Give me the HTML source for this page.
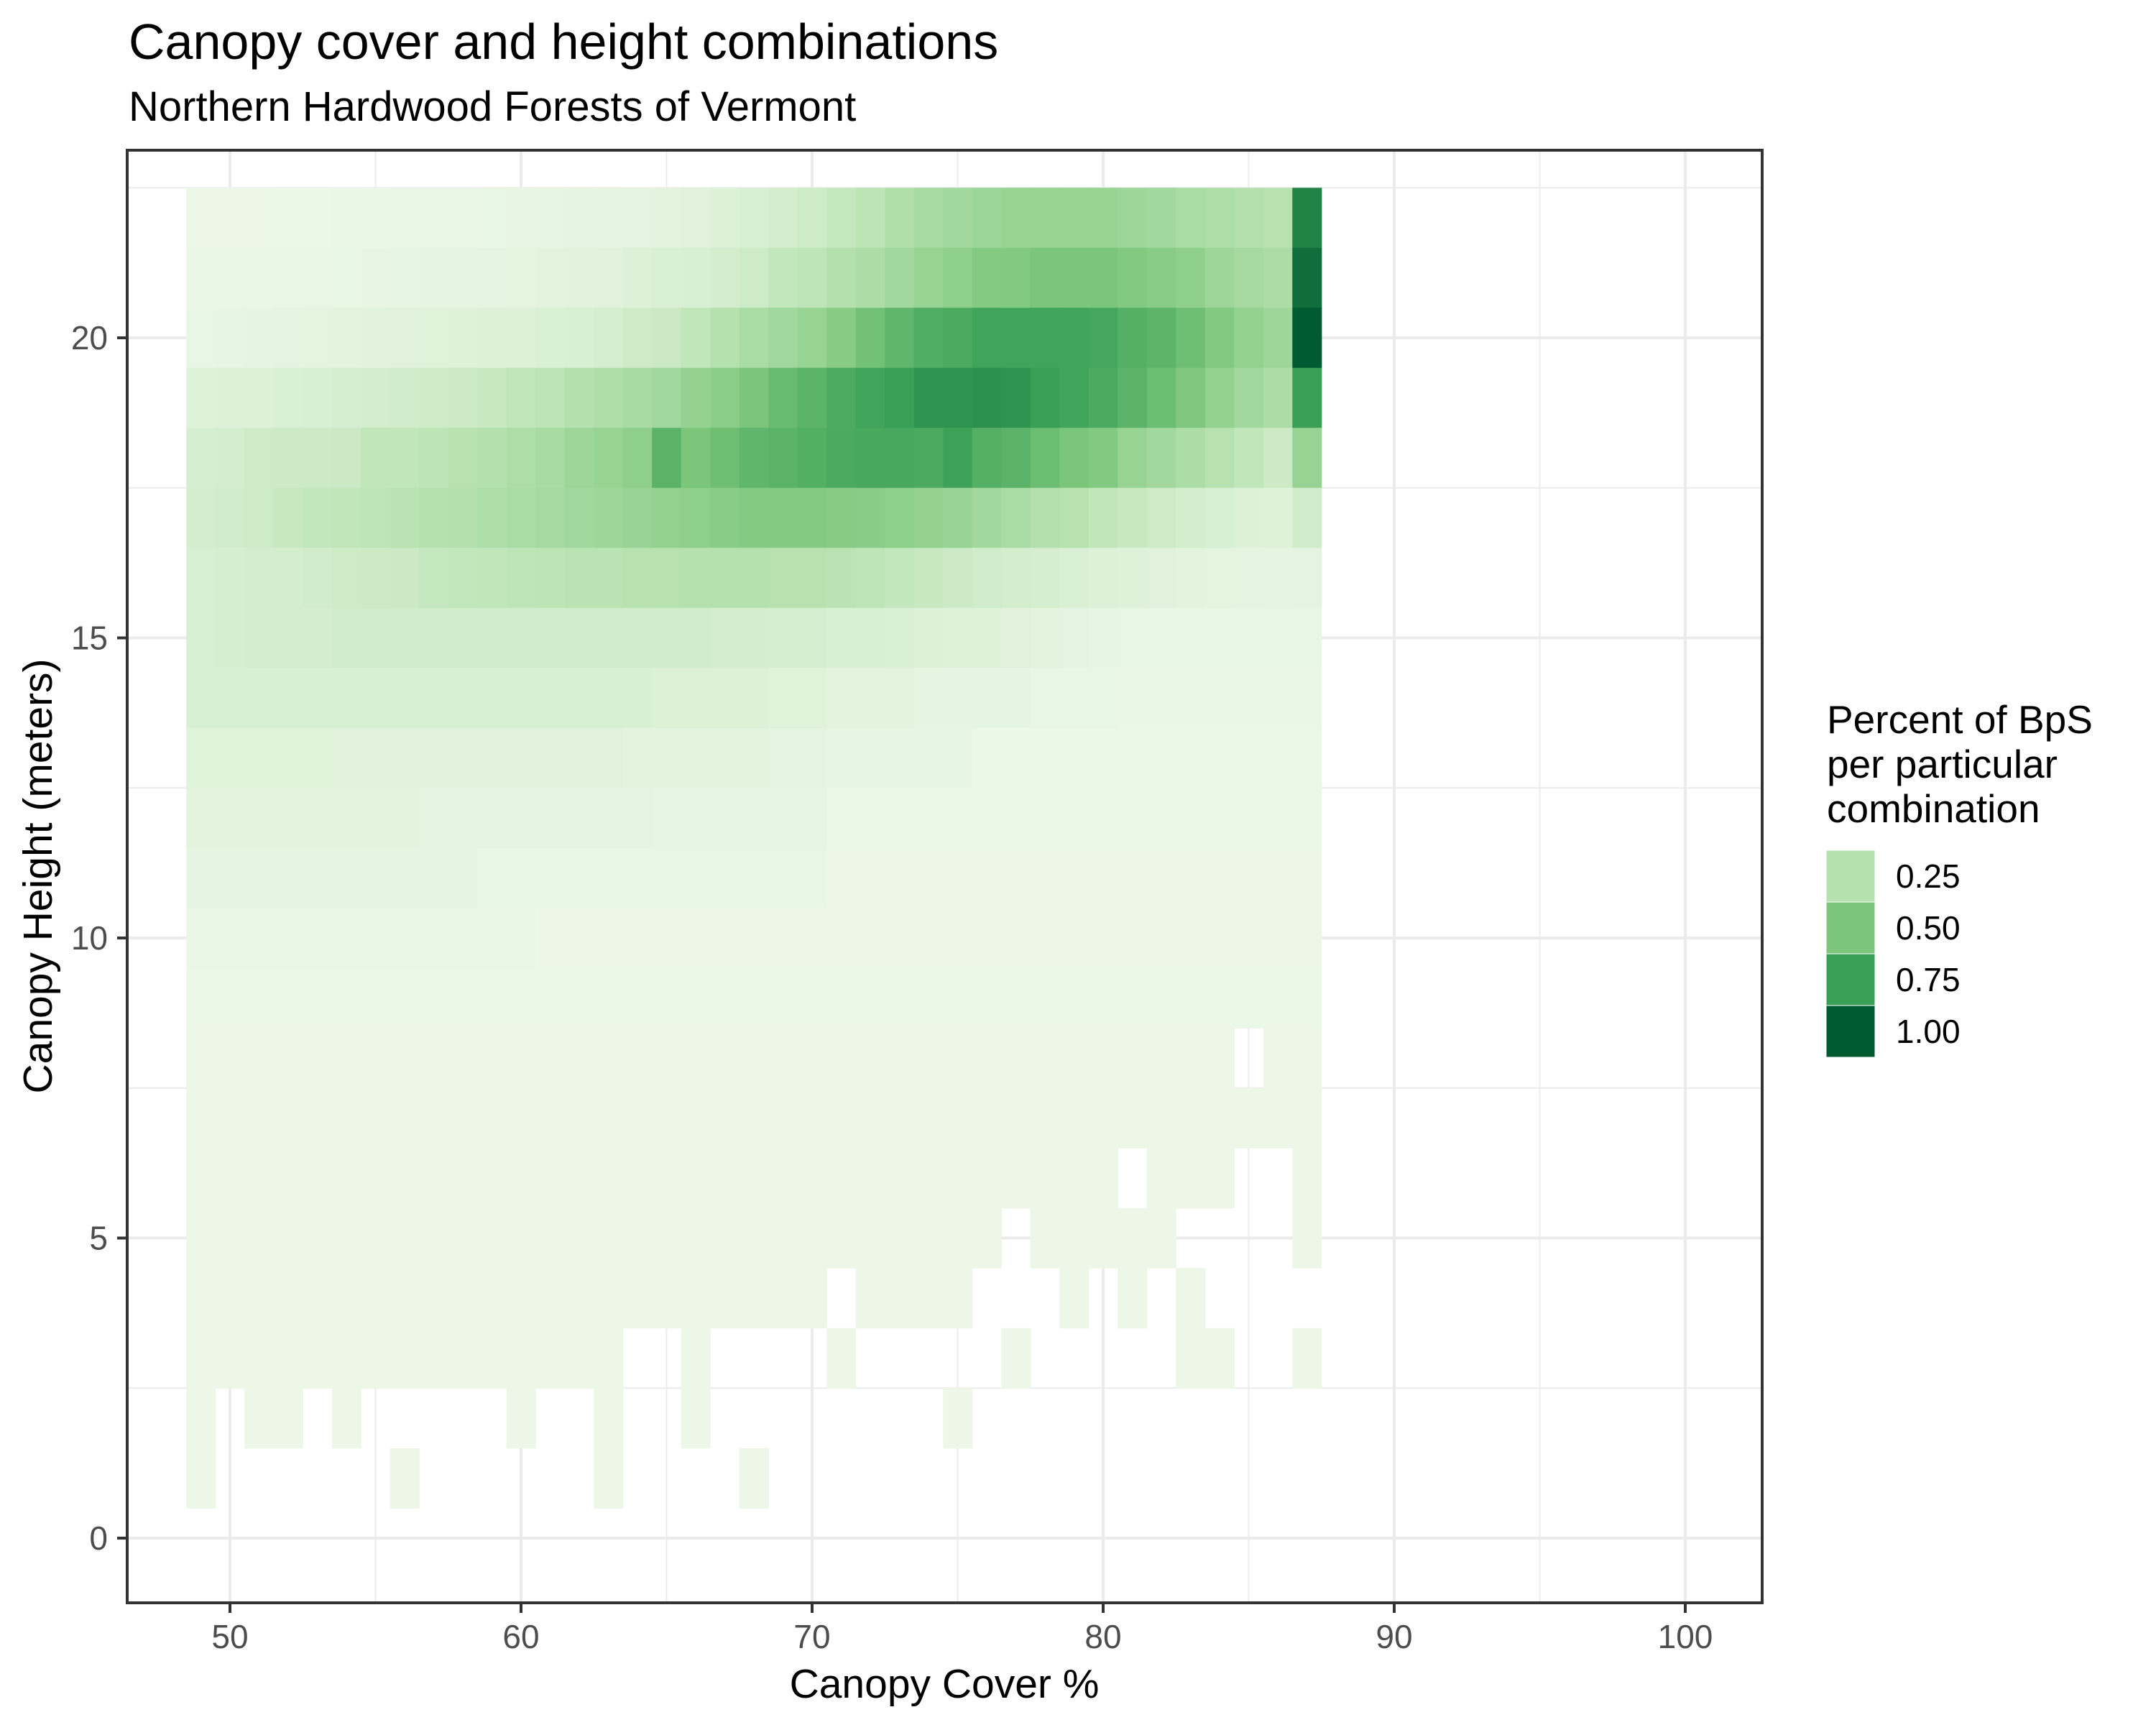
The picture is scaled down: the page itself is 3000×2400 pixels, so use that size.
<!DOCTYPE html>
<html><head><meta charset="utf-8"><title>Canopy cover and height combinations</title>
<style>html,body{margin:0;padding:0;background:#fff}svg{display:block}text{font-family:"Liberation Sans",Arial,sans-serif}</style>
</head><body>
<svg id="chart" xmlns="http://www.w3.org/2000/svg" width="3000" height="2400" viewBox="0 0 3000 2400">
<rect x="0" y="0" width="3000" height="2400" fill="#fff"/>
<text x="179" y="82" font-size="70" fill="#000">Canopy cover and height combinations</text>
<text x="179" y="168" font-size="58" fill="#000">Northern Hardwood Forests of Vermont</text>
<g id="grid"></g>
<g id="tiles"></g>
<rect x="177" y="209" width="2275" height="2021" fill="none" stroke="#333" stroke-width="4"/>
<g id="axes"></g>
<text x="1314" y="2362" font-size="57" text-anchor="middle" fill="#000">Canopy Cover %</text>
<text transform="translate(72,1219) rotate(-90)" font-size="57" text-anchor="middle" fill="#000">Canopy Height (meters)</text>
<g id="legend">
<text font-size="55" fill="#000"><tspan x="2542" y="1020">Percent of BpS</tspan><tspan x="2542" y="1082">per particular</tspan><tspan x="2542" y="1144">combination</tspan></text>
</g>
</svg>
<script>
const N = null;
const coverCategories = [49,50,51,52,53,54,55,56,57,58,59,60,61,62,63,64,65,66,67,68,69,70,71,72,73,74,75,76,77,78,79,80,81,82,83,84,85,86,87];
const heightCategories = [22,21,20,19,18,17,16,15,14,13,12,11,10,9,8,7,6,5,4,3,2,1];
const row22 = [.01,.01,.01,.012,.014,.016,.018,.02,.02,.022,.025,.028,.03,.033,.037,.042,.05,.06,.075,.1,.12,.14,.18,.22,.27,.31,.33,.36,.38,.38,.38,.38,.35,.33,.3,.28,.26,.24,.85];
const row21 = [.015,.016,.018,.02,.022,.025,.028,.03,.035,.035,.04,.045,.05,.055,.06,.08,.09,.1,.12,.14,.19,.21,.26,.29,.33,.38,.41,.46,.47,.5,.5,.5,.47,.44,.41,.35,.32,.29,.93];
const row20 = [.025,.03,.035,.04,.045,.05,.055,.06,.065,.07,.075,.08,.09,.1,.11,.14,.16,.2,.25,.3,.34,.38,.45,.53,.6,.66,.68,.72,.72,.72,.72,.7,.64,.61,.55,.47,.4,.35,1.0];
const row19 = [.07,.075,.08,.09,.1,.11,.12,.13,.14,.15,.17,.2,.22,.26,.28,.31,.34,.39,.43,.5,.57,.62,.67,.72,.75,.79,.79,.8,.79,.75,.72,.68,.62,.56,.48,.4,.33,.29,.75];
const row18 = [.11,.12,.14,.15,.15,.16,.2,.2,.22,.24,.26,.28,.31,.35,.38,.42,.62,.5,.55,.6,.62,.65,.68,.69,.69,.68,.73,.64,.62,.56,.5,.47,.38,.33,.29,.24,.2,.15,.38];
const row17 = [.12,.13,.14,.17,.19,.2,.21,.23,.25,.26,.28,.3,.32,.33,.35,.37,.4,.42,.44,.46,.46,.46,.45,.44,.42,.39,.37,.33,.3,.26,.24,.2,.17,.14,.12,.1,.08,.07,.13];
const row16 = [.1,.11,.12,.12,.13,.14,.15,.16,.18,.19,.2,.21,.22,.23,.23,.24,.24,.25,.25,.25,.24,.24,.23,.21,.19,.17,.15,.13,.12,.11,.09,.08,.07,.06,.05,.045,.04,.035,.04];
const row15 = [.1,.11,.12,.12,.12,.13,.13,.13,.13,.13,.13,.13,.13,.13,.13,.13,.13,.13,.12,.12,.11,.11,.1,.1,.09,.08,.07,.07,.06,.05,.04,.03,.025,.025,.025,.025,.025,.025,.025];
const row14 = [.1,.1,.1,.1,.1,.1,.1,.1,.1,.1,.1,.1,.1,.1,.1,.1,.08,.08,.08,.08,.065,.065,.05,.05,.05,.035,.035,.035,.035,.025,.025,.025,.015,.015,.015,.015,.015,.015,.015];
const row13 = [.065,.065,.065,.065,.065,.06,.06,.06,.06,.06,.06,.06,.06,.06,.06,.05,.05,.05,.05,.05,.04,.04,.03,.03,.03,.03,.03,.012,.012,.012,.012,.012,.012,.012,.012,.012,.012,.012,.012];
const row12 = [.05,.05,.05,.05,.05,.05,.05,.05,.04,.04,.04,.04,.04,.04,.04,.04,.03,.03,.03,.03,.03,.03,.012,.012,.012,.012,.012,.012,.012,.012,.012,.012,.012,.012,.012,.012,.012,.012,.012];
const row11 = [.035,.035,.035,.035,.035,.035,.035,.035,.035,.035,.025,.025,.025,.025,.025,.025,.025,.025,.025,.025,.025,.025,.01,.01,.01,.01,.01,.01,.01,.01,.01,.01,.01,.01,.01,.01,.01,.01,.01];
const row10 = [.02,.02,.02,.02,.02,.02,.02,.02,.02,.02,.02,.02,.01,.01,.01,.01,.01,.01,.01,.01,.01,.01,.01,.01,.01,.01,.01,.01,.01,.01,.01,.01,.01,.01,.01,.01,.01,.01,.01];
const row9 = [.012,.012,.012,.012,.012,.012,.012,.012,.012,.012,.012,.012,.012,.012,.012,.012,.012,.012,.012,.012,.012,.012,.012,.012,.012,.012,.012,.012,.012,.012,.012,.012,.012,.012,.012,.012,.012,.012,.012];
const row8 = [.008,.008,.008,.008,.008,.008,.008,.008,.008,.008,.008,.008,.008,.008,.008,.008,.008,.008,.008,.008,.008,.008,.008,.008,.008,.008,.008,.008,.008,.008,.008,.008,.008,.008,.008,.008,N,.008,.008];
const row7 = [.008,.008,.008,.008,.008,.008,.008,.008,.008,.008,.008,.008,.008,.008,.008,.008,.008,.008,.008,.008,.008,.008,.008,.008,.008,.008,.008,.008,.008,.008,.008,.008,.008,.008,.008,.008,.008,.008,.008];
const row6 = [.008,.008,.008,.008,.008,.008,.008,.008,.008,.008,.008,.008,.008,.008,.008,.008,.008,.008,.008,.008,.008,.008,.008,.008,.008,.008,.008,.008,.008,.008,.008,.008,N,.008,.008,.008,N,N,.008];
const row5 = [.008,.008,.008,.008,.008,.008,.008,.008,.008,.008,.008,.008,.008,.008,.008,.008,.008,.008,.008,.008,.008,.008,.008,.008,.008,.008,.008,.008,N,.008,.008,.008,.008,.008,N,N,N,N,.008];
const row4 = [.008,.008,.008,.008,.008,.008,.008,.008,.008,.008,.008,.008,.008,.008,.008,.008,.008,.008,.008,.008,.008,.008,N,.008,.008,.008,.008,N,N,N,.008,N,.008,N,.008,N,N,N,N];
const row3 = [.008,.008,.008,.008,.008,.008,.008,.008,.008,.008,.008,.008,.008,.008,.008,N,N,.008,N,N,N,N,.008,N,N,N,N,N,.008,N,N,N,N,N,.008,.008,N,N,.008];
const row2 = [.008,N,.008,.008,N,.008,N,N,N,N,N,.008,N,N,.008,N,N,.008,N,N,N,N,N,N,N,N,.008,N,N,N,N,N,N,N,N,N,N,N,N];
const row1 = [.008,N,N,N,N,N,N,.008,N,N,N,N,N,N,.008,N,N,N,N,.008,N,N,N,N,N,N,N,N,N,N,N,N,N,N,N,N,N,N,N];
const gridValues = [row22,row21,row20,row19,row18,row17,row16,row15,row14,row13,row12,row11,row10,row9,row8,row7,row6,row5,row4,row3,row2,row1];
const xTickValues = [50,60,70,80,90,100];
const xTickLabels = ["50","60","70","80","90","100"];
const yTickValues = [0,5,10,15,20];
const yTickLabels = ["0","5","10","15","20"];
const xMinorValues = [55,65,75,85,95];
const yMinorValues = [2.5,7.5,12.5,17.5,22.5];
const legendValues = [0.25,0.5,0.75,1.0];
const legendLabels = ["0.25","0.50","0.75","1.00"];

const NS = "http://www.w3.org/2000/svg";
const PX_PER_X = 40.5, PX_PER_Y = 83.5;
function xScale(v){ return 320 + (v - 50) * PX_PER_X; }
function yScale(v){ return 2140 - v * PX_PER_Y; }
const stops = [[0,[238,248,234]],[0.25,[181,225,174]],[0.5,[123,198,123]],[0.75,[56,159,85]],[1,[0,90,50]]];
function colorOf(v){
  v = Math.max(0, Math.min(1, v));
  for (let i = 0; i < stops.length - 1; i++) {
    const a = stops[i], b = stops[i+1];
    if (v <= b[0]) {
      const t = (v - a[0]) / (b[0] - a[0]);
      const c = a[1].map((x, k) => Math.round(x + (b[1][k] - x) * t));
      return "rgb(" + c.join(",") + ")";
    }
  }
  return "rgb(0,90,50)";
}
function mk(tag, attrs){ const e = document.createElementNS(NS, tag); for (const k in attrs) e.setAttribute(k, attrs[k]); return e; }

const grid = document.getElementById("grid");
const PT = 209, PB = 2230, PL = 177, PR = 2452;
xMinorValues.forEach(v => { const l = mk("line",{x1:xScale(v),x2:xScale(v),y1:PT,y2:PB,stroke:"#ebebeb","stroke-width":2});
  
   grid.appendChild(l); });
yMinorValues.forEach(v => { const l = mk("line",{x1:PL,x2:PR,y1:yScale(v),y2:yScale(v),stroke:"#ebebeb","stroke-width":2});
  
   grid.appendChild(l); });
xTickValues.forEach(v => { const l = mk("line",{x1:xScale(v),x2:xScale(v),y1:PT,y2:PB,stroke:"#ebebeb","stroke-width":4});
  
   grid.appendChild(l); });
yTickValues.forEach(v => { const l = mk("line",{x1:PL,x2:PR,y1:yScale(v),y2:yScale(v),stroke:"#ebebeb","stroke-width":4});
  
   grid.appendChild(l); });

const tiles = document.getElementById("tiles");
heightCategories.forEach((h, ri) => {
  coverCategories.forEach((c, ci) => {
    const v = gridValues[ri][ci];
    if (v === null || v === undefined) return;
    const x0 = xScale(c - 0.5), x1 = xScale(c + 0.5), y0 = yScale(h + 0.5), y1 = yScale(h - 0.5);
    const r = mk("rect",{x:x0,y:y0,width:(x1-x0)+0.6,height:(y1-y0)+0.6,fill:colorOf(v)});
    
    
    tiles.appendChild(r);
  });
});

const axes = document.getElementById("axes");
xTickValues.forEach((v, i) => {
  const t = mk("line",{x1:xScale(v),x2:xScale(v),y1:PB,y2:PB+14,stroke:"#333","stroke-width":4});
  
  
  axes.appendChild(t);
  const lb = mk("text",{x:xScale(v),y:2293,"font-size":46,"text-anchor":"middle",fill:"#4d4d4d"});
  lb.textContent = xTickLabels[i];
  
  
  axes.appendChild(lb);
});
yTickValues.forEach((v, i) => {
  const t = mk("line",{x1:PL-14,x2:PL,y1:yScale(v),y2:yScale(v),stroke:"#333","stroke-width":4});
  
  
  axes.appendChild(t);
  const lb = mk("text",{x:150,y:yScale(v)+16,"font-size":46,"text-anchor":"end",fill:"#4d4d4d"});
  lb.textContent = yTickLabels[i];
  
  
  axes.appendChild(lb);
});

const legend = document.getElementById("legend");
legendValues.forEach((v, i) => {
  const y = 1183 + i * 72;
  const k = mk("rect",{x:2541,y:y,width:68,height:72,fill:colorOf(v),stroke:"#fff","stroke-width":1});
  
  
  legend.appendChild(k);
  const lb = mk("text",{x:2638,y:y+52,"font-size":46,fill:"#000"});
  lb.textContent = legendLabels[i];
  
  
  legend.appendChild(lb);
});
</script>
</body></html>
